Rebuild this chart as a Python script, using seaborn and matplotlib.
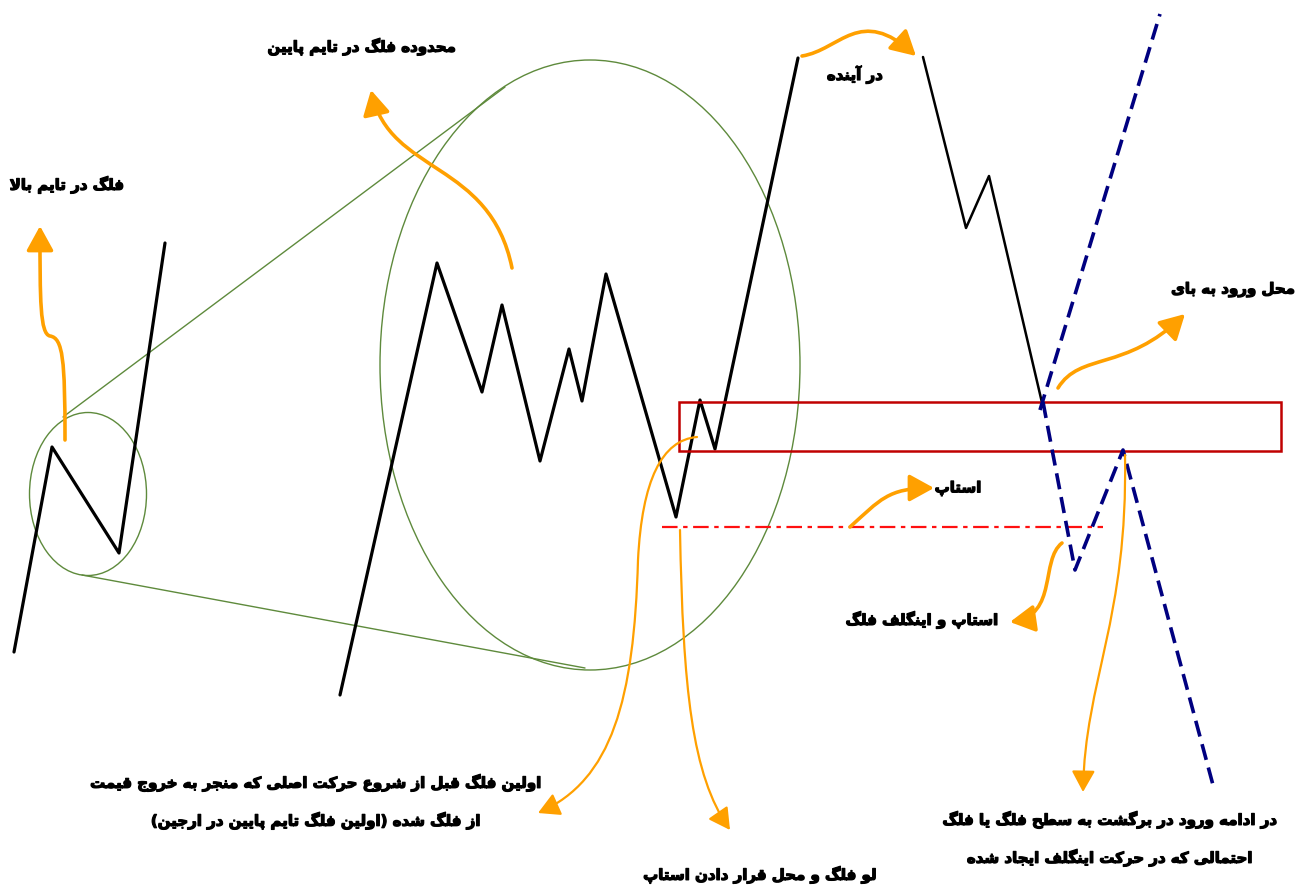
import numpy as np
import pandas as pd
import matplotlib
matplotlib.use("Agg")
import matplotlib.pyplot as plt
import matplotlib.patheffects as pe
import seaborn as sns
from matplotlib.patches import Ellipse, Rectangle, FancyArrowPatch
from matplotlib.path import Path

# ---------------- data (pixel units) ----------------
small_x = [14, 52, 119, 165]
small_y = [652, 447, 553, 243]
main_x = [340, 437, 482, 502, 540, 569, 582, 606, 676, 700, 715, 798]
main_y = [695, 263, 392, 305, 461, 349, 401, 274, 517, 400, 449, 58]
right_x = [923, 966, 989, 1043]
right_y = [57, 228, 176, 407]
blue_up_x = [1040, 1160]
blue_up_y = [410, 14]
blue_down_x = [1043, 1075, 1123, 1213]
blue_down_y = [402, 570, 450, 785]
stop_x = [662, 1103]
stop_y = [527, 527]

labels = [
    "فلگ در تایم بالا",
    "محدوده فلگ در تایم پایین",
    "در آینده",
    "محل ورود به بای",
    "استاپ",
    "استاپ و اینگلف فلگ",
    "اولین فلگ قبل از شروع حرکت اصلی که منجر به خروج قیمت\nاز فلگ شده (اولین فلگ تایم پایین در ارجین)",
    "لو فلگ و محل قرار دادن استاپ",
    "در ادامه ورود در برگشت به سطح فلگ یا فلگ\nاحتمالی که در حرکت اینگلف ایجاد شده",
]
label_x = [67, 362, 855, 1233, 958, 922, 316, 760, 1110]
label_y = [185, 47, 75, 290, 488, 620, 783, 875, 820]

# ---------------- simple Arabic/Persian shaping for matplotlib ----------------
DUAL = {
    "ب": (0xFE8F, 0xFE90, 0xFE91, 0xFE92), "پ": (0xFB56, 0xFB57, 0xFB58, 0xFB59),
    "ت": (0xFE95, 0xFE96, 0xFE97, 0xFE98), "ث": (0xFE99, 0xFE9A, 0xFE9B, 0xFE9C),
    "ج": (0xFE9D, 0xFE9E, 0xFE9F, 0xFEA0), "چ": (0xFB7A, 0xFB7B, 0xFB7C, 0xFB7D),
    "ح": (0xFEA1, 0xFEA2, 0xFEA3, 0xFEA4), "خ": (0xFEA5, 0xFEA6, 0xFEA7, 0xFEA8),
    "س": (0xFEB1, 0xFEB2, 0xFEB3, 0xFEB4), "ش": (0xFEB5, 0xFEB6, 0xFEB7, 0xFEB8),
    "ص": (0xFEB9, 0xFEBA, 0xFEBB, 0xFEBC), "ض": (0xFEBD, 0xFEBE, 0xFEBF, 0xFEC0),
    "ط": (0xFEC1, 0xFEC2, 0xFEC3, 0xFEC4), "ظ": (0xFEC5, 0xFEC6, 0xFEC7, 0xFEC8),
    "ع": (0xFEC9, 0xFECA, 0xFECB, 0xFECC), "غ": (0xFECD, 0xFECE, 0xFECF, 0xFED0),
    "ف": (0xFED1, 0xFED2, 0xFED3, 0xFED4), "ق": (0xFED5, 0xFED6, 0xFED7, 0xFED8),
    "ک": (0xFB8E, 0xFB8F, 0xFB90, 0xFB91), "گ": (0xFB92, 0xFB93, 0xFB94, 0xFB95),
    "ل": (0xFEDD, 0xFEDE, 0xFEDF, 0xFEE0), "م": (0xFEE1, 0xFEE2, 0xFEE3, 0xFEE4),
    "ن": (0xFEE5, 0xFEE6, 0xFEE7, 0xFEE8), "ه": (0xFEE9, 0xFEEA, 0xFEEB, 0xFEEC),
    "ی": (0xFBFC, 0xFBFD, 0xFBFE, 0xFBFF),
}
RIGHT = {
    "ا": (0xFE8D, 0xFE8E), "آ": (0xFE81, 0xFE82), "د": (0xFEA9, 0xFEAA),
    "ذ": (0xFEAB, 0xFEAC), "ر": (0xFEAD, 0xFEAE), "ز": (0xFEAF, 0xFEB0),
    "ژ": (0xFB8A, 0xFB8B), "و": (0xFEED, 0xFEEE),
    "\uFEFB": (0xFEFB, 0xFEFC), "\uFEF5": (0xFEF5, 0xFEF6),
}
MIRROR = {"(": ")", ")": "("}


def shape_line(s):
    s = s.replace("لا", "\uFEFB").replace("لآ", "\uFEF5")
    out = []
    n = len(s)
    for i, c in enumerate(s):
        prev_joins = i > 0 and s[i - 1] in DUAL
        if c in DUAL:
            next_joins = i + 1 < n and (s[i + 1] in DUAL or s[i + 1] in RIGHT)
            iso, fin, ini, med = DUAL[c]
            if prev_joins and next_joins:
                g = med
            elif prev_joins:
                g = fin
            elif next_joins:
                g = ini
            else:
                g = iso
            out.append(chr(g))
        elif c in RIGHT:
            iso, fin = RIGHT[c]
            out.append(chr(fin if prev_joins else iso))
        else:
            out.append(MIRROR.get(c, c))
    return "".join(reversed(out))


# ---------------- figure ----------------
sns.set_theme(style="white")
plt.rcParams["font.family"] = ["DejaVu Sans"]

fig = plt.figure(figsize=(12.99, 8.9), dpi=100)
ax = fig.add_axes([0, 0, 1, 1])

GREEN = "#5E8A3C"
ORANGE = "#FFA000"

# green magnifier
ax.add_patch(Ellipse((88, 494), 117, 163, fill=False, ec=GREEN, lw=1.0, zorder=1))
ax.add_patch(Ellipse((590, 365), 420, 610, fill=False, ec=GREEN, lw=1.0, zorder=1))
sns.lineplot(x=[63, 505], y=[417, 87], sort=False, estimator=None, ax=ax,
             color=GREEN, linewidth=1.0, zorder=1)
sns.lineplot(x=[82, 585], y=[575, 668], sort=False, estimator=None, ax=ax,
             color=GREEN, linewidth=1.0, zorder=1)

# price paths
for xs, ys, lw in [(small_x, small_y, 2.3), (main_x, main_y, 2.3), (right_x, right_y, 1.8)]:
    sns.lineplot(x=xs, y=ys, sort=False, estimator=None, ax=ax,
                 color="black", linewidth=lw, zorder=3)

# red zone
ax.add_patch(Rectangle((679, 402), 602, 49, fill=False, ec="#C00000", lw=1.8, zorder=4))
sns.lineplot(x=stop_x, y=stop_y, sort=False, estimator=None, ax=ax,
             color="#FF1010", linewidth=1.6, zorder=4)
ax.lines[-1].set_dashes([7, 2.5, 2, 2.5])

# blue dashed scenarios
for xs, ys in [(blue_up_x, blue_up_y), (blue_down_x, blue_down_y)]:
    sns.lineplot(x=xs, y=ys, sort=False, estimator=None, ax=ax,
                 color="#000080", linewidth=2.6, zorder=5)
    ax.lines[-1].set_dashes([4.5, 2.2])
    ax.lines[-1].set_solid_joinstyle("miter")


def curved_arrow(pts, lw, ms):
    codes = [Path.MOVETO] + [Path.CURVE4] * (len(pts) - 1)
    p = FancyArrowPatch(path=Path(pts, codes),
                        arrowstyle="-|>,head_length=1.0,head_width=0.55",
                        mutation_scale=ms, color=ORANGE, lw=lw,
                        shrinkA=0, shrinkB=0, zorder=6, capstyle="round")
    ax.add_patch(p)


curved_arrow([(65, 440), (65, 360), (63, 338), (50, 336), (40, 334), (40, 300), (40, 226)], 2.6, 15)
curved_arrow([(512, 268), (490, 160), (390, 175), (371, 90)], 2.6, 15)
curved_arrow([(802, 56), (840, 50), (860, 5), (916, 56)], 2.6, 15)
curved_arrow([(1058, 388), (1080, 352), (1125, 372), (1185, 314)], 2.6, 15)
curved_arrow([(850, 527), (880, 500), (888, 488), (934, 488)], 2.6, 15)
curved_arrow([(1062, 543), (1040, 560), (1058, 615), (1010, 622)], 2.6, 15)
curved_arrow([(1125, 455), (1128, 620), (1085, 680), (1083, 792)], 1.6, 13)
curved_arrow([(697, 437), (662, 440), (642, 480), (638, 560), (634, 700), (612, 780), (538, 813)], 1.6, 13)
curved_arrow([(680, 530), (683, 690), (692, 775), (730, 830)], 1.6, 13)

# labels
heavy = [pe.withStroke(linewidth=0.9, foreground="black")]
for txt, x, y in zip(labels, label_x, label_y):
    for k, line in enumerate(txt.split("\n")):
        ax.text(x, y + k * 38, shape_line(line), ha="center", va="center",
                fontsize=10.8, fontweight="bold", color="black", zorder=7,
                path_effects=heavy)

ax.set_xlim(0, 1299)
ax.set_ylim(890, 0)
ax.axis("off")
fig.savefig("out.png", dpi=100, facecolor="white")
